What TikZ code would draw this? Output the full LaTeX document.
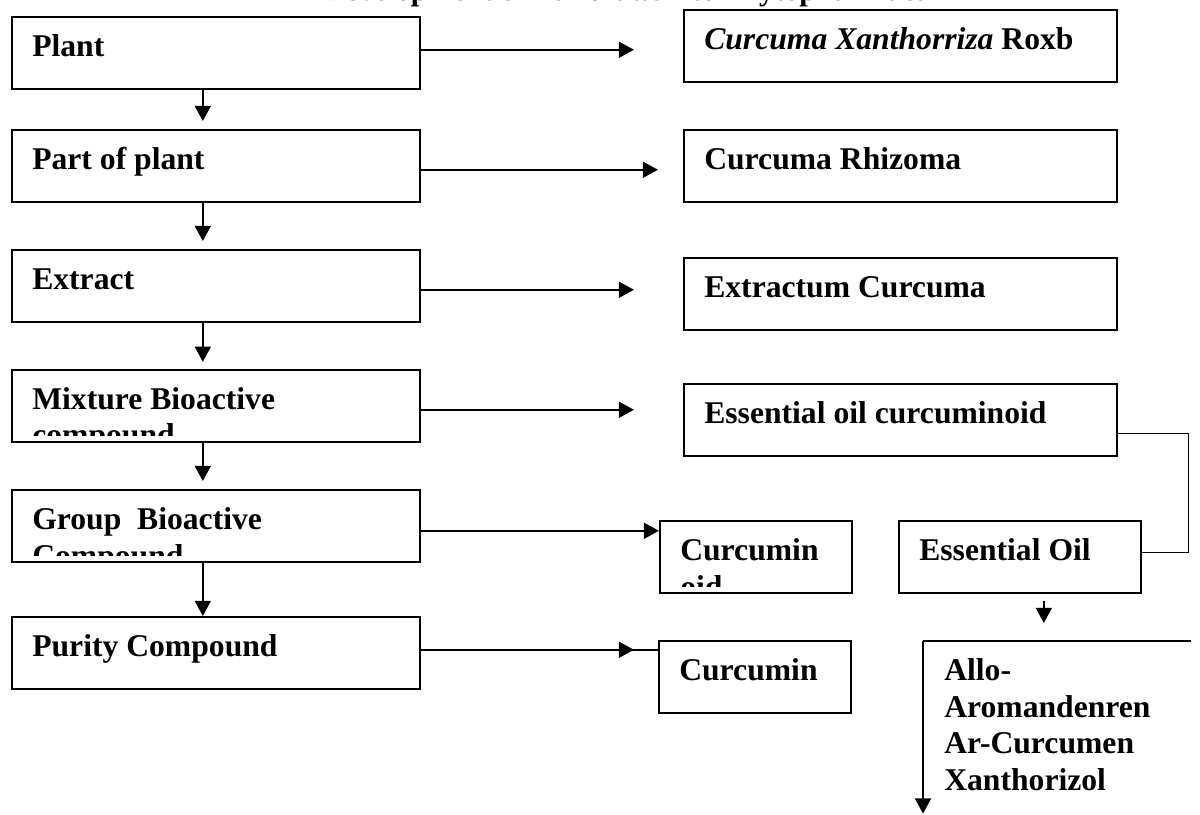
\documentclass[tikz,border=0pt]{standalone}
\usepackage{fontspec}
\setmainfont{Liberation Serif}
\usetikzlibrary{arrows.meta}

% box with its text clipped a little above the lower border
\newcommand{\flowbox}[4]{%
  \node[box,minimum width=#3] (#1) at #2 {};
  \begin{scope}
    \clip (#1.north west) rectangle ([yshift=0.18cm]#1.south east);
    \node[boxtext] (#1-txt) at ([xshift=0.525cm,yshift=-1cm]#1.north west)
        {\begin{tabular}[t]{@{}l@{}}#4\end{tabular}};
  \end{scope}}

\begin{document}
\begin{tikzpicture}[x=0.025cm,y=-0.025cm]
    \tikzstyle{box}=[draw=black,line width=1.1pt,anchor=north west,minimum height=1.8cm,inner sep=0pt]
    \tikzstyle{boxtext}=[anchor=base west,inner sep=0pt,font=\fontsize{22.5}{26.3}\selectfont\bfseries]
    \tikzstyle{heading}=[anchor=base,inner sep=0pt,font=\fontsize{21.5}{25}\selectfont\bfseries]
    \tikzstyle{edge}=[draw=black,line width=1.3pt]
    \tikzstyle{arrow}=[edge,-{Triangle[length=0.38cm,width=0.4cm]}]
    \tikzstyle{elbow}=[draw=black,line width=0.9pt]

    \def\L{10.2cm}
    \def\R{10.825cm}
    \def\S{4.8cm}

    \useasboundingbox (0,0) rectangle (1200,814);

    \node[heading] (title) at (627,1) {Development of Temulawak to Phytopharmaca};

    \flowbox{plant}{(11,16)}{\L}{Plant}
    \flowbox{partplant}{(11,129)}{\L}{Part of plant}
    \flowbox{extract}{(11,249)}{\L}{Extract}
    \flowbox{mixture}{(11,369)}{\L}{Mixture Bioactive\\compound}
    \flowbox{group}{(11,489)}{\L}{Group~ Bioactive\\Compound}
    \flowbox{purity}{(11,616)}{\L}{Purity Compound}

    \flowbox{xanth}{(683,9)}{\R}{\textit{Curcuma Xanthorriza} Roxb}
    \flowbox{rhizoma}{(683,129)}{\R}{Curcuma Rhizoma}
    \flowbox{extractum}{(683,257)}{\R}{Extractum Curcuma}
    \flowbox{curcuminoid}{(683,383)}{\R}{Essential oil curcuminoid}
    \flowbox{curcuminA}{(659,520)}{\S}{Curcumin\\oid}
    \flowbox{essoil}{(898,520)}{6.05cm}{Essential Oil}
    \flowbox{curcuminB}{(658,640)}{\S}{Curcumin}

    \node[anchor=north west,inner sep=0pt,minimum width=6.675cm,minimum height=4.3cm] (compounds) at (923,641) {};
    \node[boxtext] (compounds-txt) at ([xshift=0.525cm,yshift=-0.975cm]compounds.north west)
        {\begin{tabular}[t]{@{}l@{}}Allo-\\Aromandenren\\Ar-Curcumen\\Xanthorizol\end{tabular}};

    % main column
    \path[arrow,shorten >=0.2cm] ([xshift=-0.325cm]plant.south) -- ([xshift=-0.325cm]partplant.north);
    \path[arrow,shorten >=0.2cm] ([xshift=-0.325cm]partplant.south) -- ([xshift=-0.325cm]extract.north);
    \path[arrow,shorten >=0.18cm] ([xshift=-0.325cm]extract.south) -- ([xshift=-0.325cm]mixture.north);
    \path[arrow,shorten >=0.2cm] ([xshift=-0.325cm]mixture.south) -- ([xshift=-0.325cm]group.north);
    \path[arrow] ([xshift=-0.325cm]group.south) -- ([xshift=-0.325cm]purity.north);

    % to the right column
    \path[arrow,shorten >=1.225cm] ([yshift=0.075cm]plant.east) -- ([yshift=0.075cm]plant.east -| xanth.west);
    \path[arrow,shorten >=0.625cm] ([yshift=-0.1cm]partplant.east) -- ([yshift=-0.1cm]partplant.east -| rhizoma.west);
    \path[arrow,shorten >=1.225cm] ([yshift=-0.1cm]extract.east) -- ([yshift=-0.1cm]extract.east -| extractum.west);
    \path[arrow,shorten >=1.225cm] ([yshift=-0.1cm]mixture.east) -- ([yshift=-0.1cm]mixture.east -| curcuminoid.west);
    \path[arrow] ([yshift=-0.125cm]group.east) -- ([yshift=-0.125cm]group.east -| curcuminA.west);
    \path[edge] ([yshift=0.075cm]purity.east) -- ([yshift=0.075cm]purity.east -| curcuminB.west);
    \path[arrow,shorten >=0.6cm] ([yshift=0.075cm]purity.east) -- ([yshift=0.075cm]purity.east -| curcuminB.west);

    % essential oil branch
    \path[elbow] ([yshift=-0.3375cm]curcuminoid.east) -- ++(71,0) |- ([yshift=0.11cm]essoil.east);
    \path[arrow,shorten <=0.175cm,shorten >=0.45cm] ([xshift=0.6cm]essoil.south) -- ([xshift=0.6cm]essoil.south |- compounds.north);
    \path[edge] (compounds.north east) -- (compounds.north west);
    \path[arrow] (compounds.north west) -- (compounds.south west);
\end{tikzpicture}
\end{document}
